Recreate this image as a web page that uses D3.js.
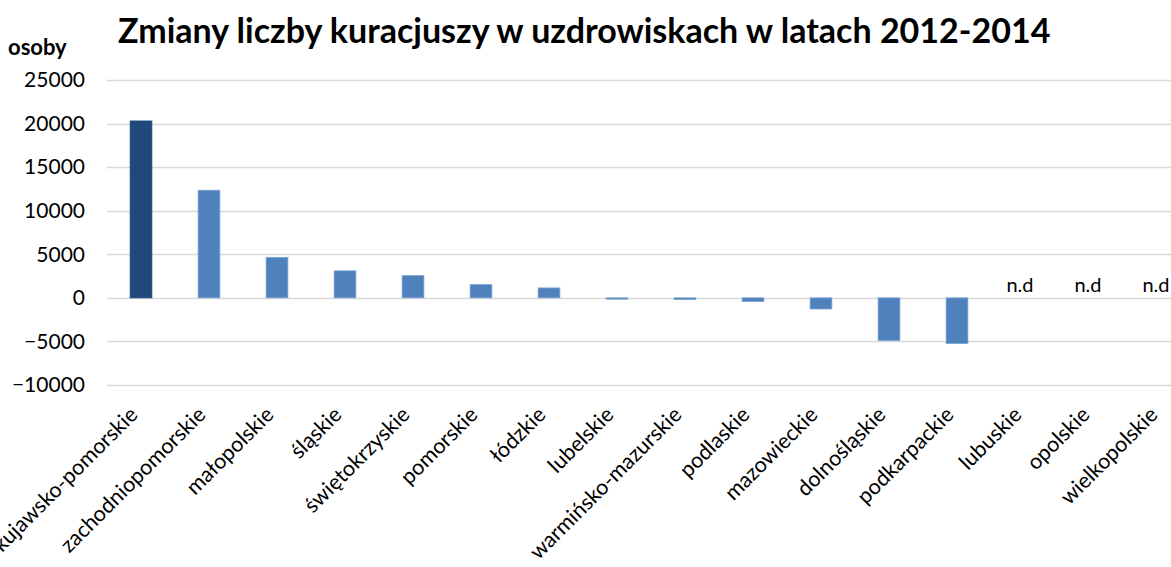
<!DOCTYPE html>
<html>
<head>
<meta charset="utf-8">
<script src="https://cdn.jsdelivr.net/npm/d3@7"></script>
<style>
  body { margin: 0; background: #fff; }
  text { font-family: Lato, "Open Sans", sans-serif; fill: #000; }
</style>
</head>
<body>
<div id="chart_container"></div>
<script>
var regions = ["kujawsko-pomorskie", "zachodniopomorskie", "małopolskie", "śląskie",
    "świętokrzyskie", "pomorskie", "łódzkie", "lubelskie", "warmińsko-mazurskie",
    "podlaskie", "mazowieckie", "dolnośląskie", "podkarpackie", "lubuskie",
    "opolskie", "wielkopolskie"];
// null = brak danych (n.d)
var changes = [20300, 12350, 4650, 3100, 2550, 1520, 1140, -150, -200,
    -420, -1280, -4900, -5250, null, null, null];
var yTicks = [-10000, -5000, 0, 5000, 10000, 15000, 20000, 25000];

var width = 1171, height = 567;
var plotLeft = 107, plotRight = 1195, plotTop = 80, plotBottom = 385;

var svg = d3.select("#chart_container").append("svg")
    .attr("width", width)
    .attr("height", height);

var x = d3.scaleBand()
    .domain(regions)
    .range([plotLeft, plotRight])
    .paddingInner(0.68)
    .paddingOuter(0.34);

var y = d3.scaleLinear()
    .domain([-10000, 25000])
    .range([plotBottom, plotTop]);

// gridlines
svg.append("g")
    .attr("class", "grid")
    .selectAll("line")
    .data(yTicks)
    .enter().append("line")
    .attr("x1", plotLeft)
    .attr("x2", plotRight)
    .attr("y1", function(d) { return Math.round(y(d)) + 0.5; })
    .attr("y2", function(d) { return Math.round(y(d)) + 0.5; })
    .attr("stroke", "#d9d9d9")
    .attr("stroke-width", 1.5);

// y axis labels
var yAxis = d3.axisLeft(y).tickValues(yTicks).tickFormat(d3.format("d")).tickSize(0).tickPadding(22);
svg.append("g")
    .attr("transform", "translate(" + plotLeft + ",0)")
    .call(yAxis)
    .call(function(g) { g.select(".domain").remove(); })
    .selectAll("text")
    .style("font-size", "21px")
    .style("font-family", "Lato, sans-serif")
    .attr("fill", "#000");

// bars
svg.append("g")
    .selectAll("rect")
    .data(regions.filter(function(d, i) { return changes[i] !== null; }))
    .enter().append("rect")
    .attr("x", function(d) { return x(d); })
    .attr("width", x.bandwidth())
    .attr("y", function(d) {
        var v = changes[regions.indexOf(d)];
        return y(Math.max(0, v));
    })
    .attr("height", function(d) {
        var v = changes[regions.indexOf(d)];
        return Math.abs(y(v) - y(0));
    })
    .attr("fill", function(d, i) { return i === 0 ? "#1f497d" : "#4f81bd"; })
    .attr("stroke", function(d, i) { return i === 0 ? "#1f497d" : "#7ea3d0"; })
    .attr("stroke-width", 0.8);

// n.d labels
svg.append("g")
    .selectAll("text")
    .data(regions.filter(function(d, i) { return changes[i] === null; }))
    .enter().append("text")
    .attr("x", function(d) { return x(d) + x.bandwidth() / 2 - 5; })
    .attr("y", y(0) - 6)
    .attr("text-anchor", "middle")
    .style("font-size", "20px")
    .text("n.d");

// category labels
svg.append("g")
    .selectAll("text")
    .data(regions)
    .enter().append("text")
    .attr("transform", function(d) {
        return "translate(" + (x(d) + x.bandwidth() / 2 - 2) + "," + 416 + ") rotate(-45)";
    })
    .attr("text-anchor", "end")
    .style("font-size", "21.5px")
    .text(function(d) { return d; });

// title
svg.append("text")
    .attr("x", 118)
    .attr("y", 43)
    .style("font-size", "34px")
    .style("font-weight", "bold")
    .text("Zmiany liczby kuracjuszy w uzdrowiskach w latach 2012-2014");

svg.append("text")
    .attr("x", 8)
    .attr("y", 55)
    .style("font-size", "22px")
    .style("font-weight", "bold")
    .text("osoby");
</script>
</body>
</html>
